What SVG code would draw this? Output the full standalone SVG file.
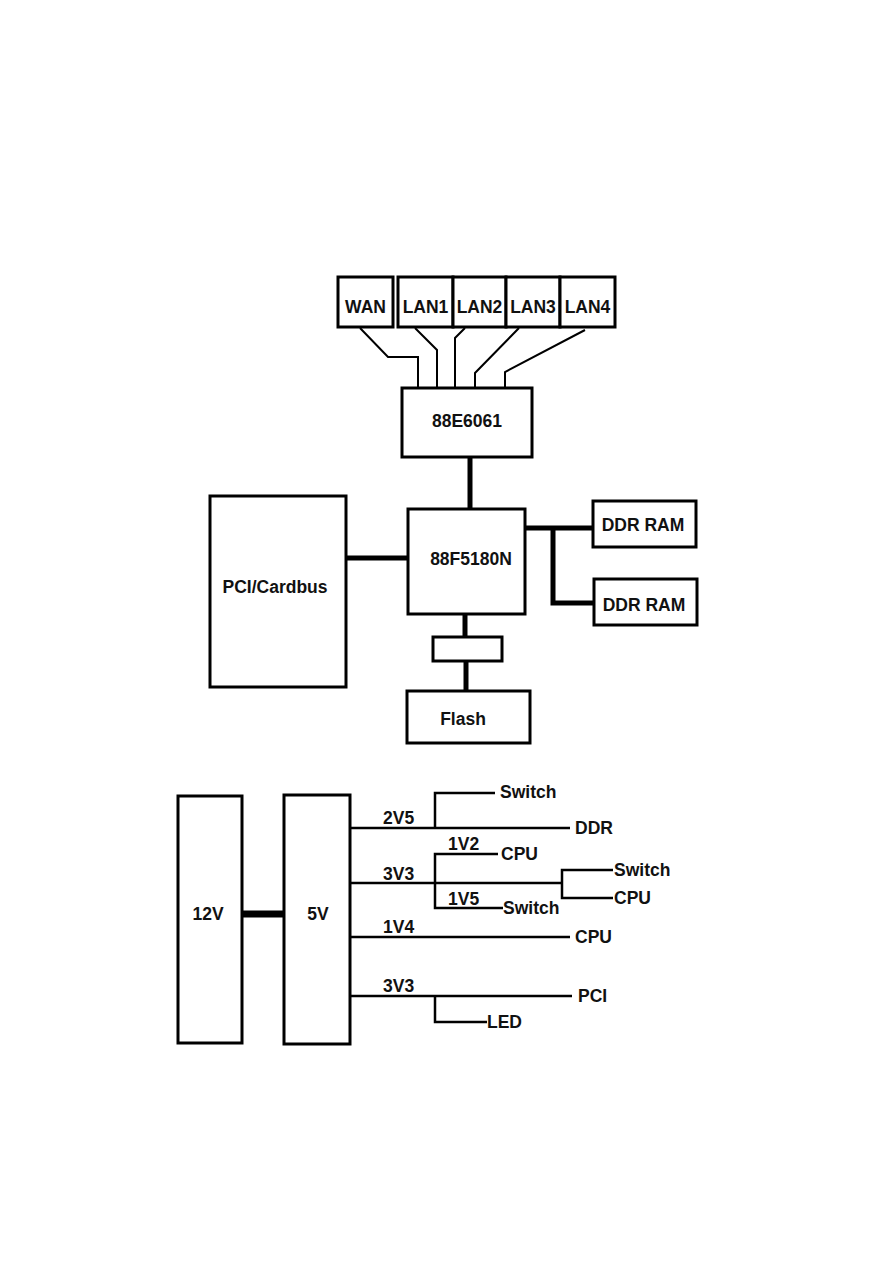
<svg xmlns="http://www.w3.org/2000/svg" width="893" height="1263" viewBox="0 0 893 1263">
<style>
.box{fill:#fff;stroke:#000;stroke-width:3}
.t{font-family:"Liberation Sans",Arial,sans-serif;font-weight:bold;font-size:17.5px;fill:#111}
.m{text-anchor:middle}
.w{fill:none;stroke:#000;stroke-width:2;stroke-linejoin:miter}
.bus{fill:none;stroke:#000;stroke-width:5}
.pw{fill:none;stroke:#000;stroke-width:2.5}
</style>
<rect width="893" height="1263" fill="#fff"/>
<g id="connectors">
<polyline class="w" points="360,328 388,357 418,357 418,388"/>
<polyline class="w" points="415,328 437,350 437,388"/>
<polyline class="w" points="465,328 455,338 455,388"/>
<polyline class="w" points="519,328 475,373 475,388"/>
<polyline class="w" points="585,330 505,372 505,388"/>
<line class="bus" x1="470" y1="457" x2="470" y2="510"/>
<line class="bus" x1="346" y1="558" x2="408" y2="558"/>
<polyline class="bus" points="525,528 593,528"/>
<polyline class="bus" points="553,528 553,603 594,603"/>
<line class="bus" x1="465" y1="614" x2="465" y2="637"/>
<line class="bus" x1="466" y1="660" x2="466" y2="691"/>
<line stroke="#000" stroke-width="7" x1="242" y1="914" x2="284" y2="914"/>
<line class="pw" x1="350" y1="828" x2="570" y2="828"/>
<polyline class="pw" points="435,828 435,793 495,793"/>
<line class="pw" x1="350" y1="883" x2="562" y2="883"/>
<polyline class="pw" points="498,854 435,854 435,908 503,908"/>
<polyline class="pw" points="613,870 562,870 562,898 613,898"/>
<line class="pw" x1="350" y1="937" x2="570" y2="937"/>
<line class="pw" x1="350" y1="996" x2="572" y2="996"/>
<polyline class="pw" points="435,996 435,1022 487,1022"/>
</g>
<g id="wan"><rect class="box" x="338" y="277" width="55" height="50"/><text class="t m" x="365.5" y="313">WAN</text></g>
<g id="lan1"><rect class="box" x="398" y="277" width="55" height="50"/><text class="t m" x="425.5" y="313">LAN1</text></g>
<g id="lan2"><rect class="box" x="453" y="277" width="53" height="50"/><text class="t m" x="479.5" y="313">LAN2</text></g>
<g id="lan3"><rect class="box" x="506" y="277" width="54" height="50"/><text class="t m" x="533" y="313">LAN3</text></g>
<g id="lan4"><rect class="box" x="560" y="277" width="55" height="50"/><text class="t m" x="587.5" y="313">LAN4</text></g>
<g id="switch88e6061"><rect class="box" x="402" y="388" width="130" height="69"/><text class="t m" x="467" y="427">88E6061</text></g>
<g id="cpu88f5180n"><rect class="box" x="408" y="509" width="117" height="105"/><text class="t m" x="471" y="565">88F5180N</text></g>
<g id="pci"><rect class="box" x="210" y="496" width="136" height="191"/><text class="t m" x="275" y="593">PCI/Cardbus</text></g>
<g id="ddr1"><rect class="box" x="593" y="501" width="103" height="46"/><text class="t m" x="643" y="531">DDR RAM</text></g>
<g id="ddr2"><rect class="box" x="594" y="579" width="103" height="46"/><text class="t m" x="644" y="611">DDR RAM</text></g>
<g id="latch"><rect class="box" x="433" y="637" width="69" height="24"/></g>
<g id="flash"><rect class="box" x="407" y="691" width="123" height="52"/><text class="t m" x="463" y="725">Flash</text></g>
<g id="v12"><rect class="box" x="178" y="796" width="64" height="247"/><text class="t m" x="208" y="920">12V</text></g>
<g id="v5"><rect class="box" x="284" y="795" width="66" height="249"/><text class="t m" x="318" y="920">5V</text></g>
<g id="labels">
<text class="t" x="383" y="824">2V5</text>
<text class="t" x="500" y="798">Switch</text>
<text class="t" x="575" y="834">DDR</text>
<text class="t" x="448" y="850">1V2</text>
<text class="t" x="501" y="860">CPU</text>
<text class="t" x="383" y="880">3V3</text>
<text class="t" x="448" y="905">1V5</text>
<text class="t" x="503" y="914">Switch</text>
<text class="t" x="614" y="876">Switch</text>
<text class="t" x="614" y="904">CPU</text>
<text class="t" x="383" y="933">1V4</text>
<text class="t" x="575" y="943">CPU</text>
<text class="t" x="383" y="992">3V3</text>
<text class="t" x="578" y="1002">PCI</text>
<text class="t" x="487" y="1028">LED</text>
</g>
</svg>
